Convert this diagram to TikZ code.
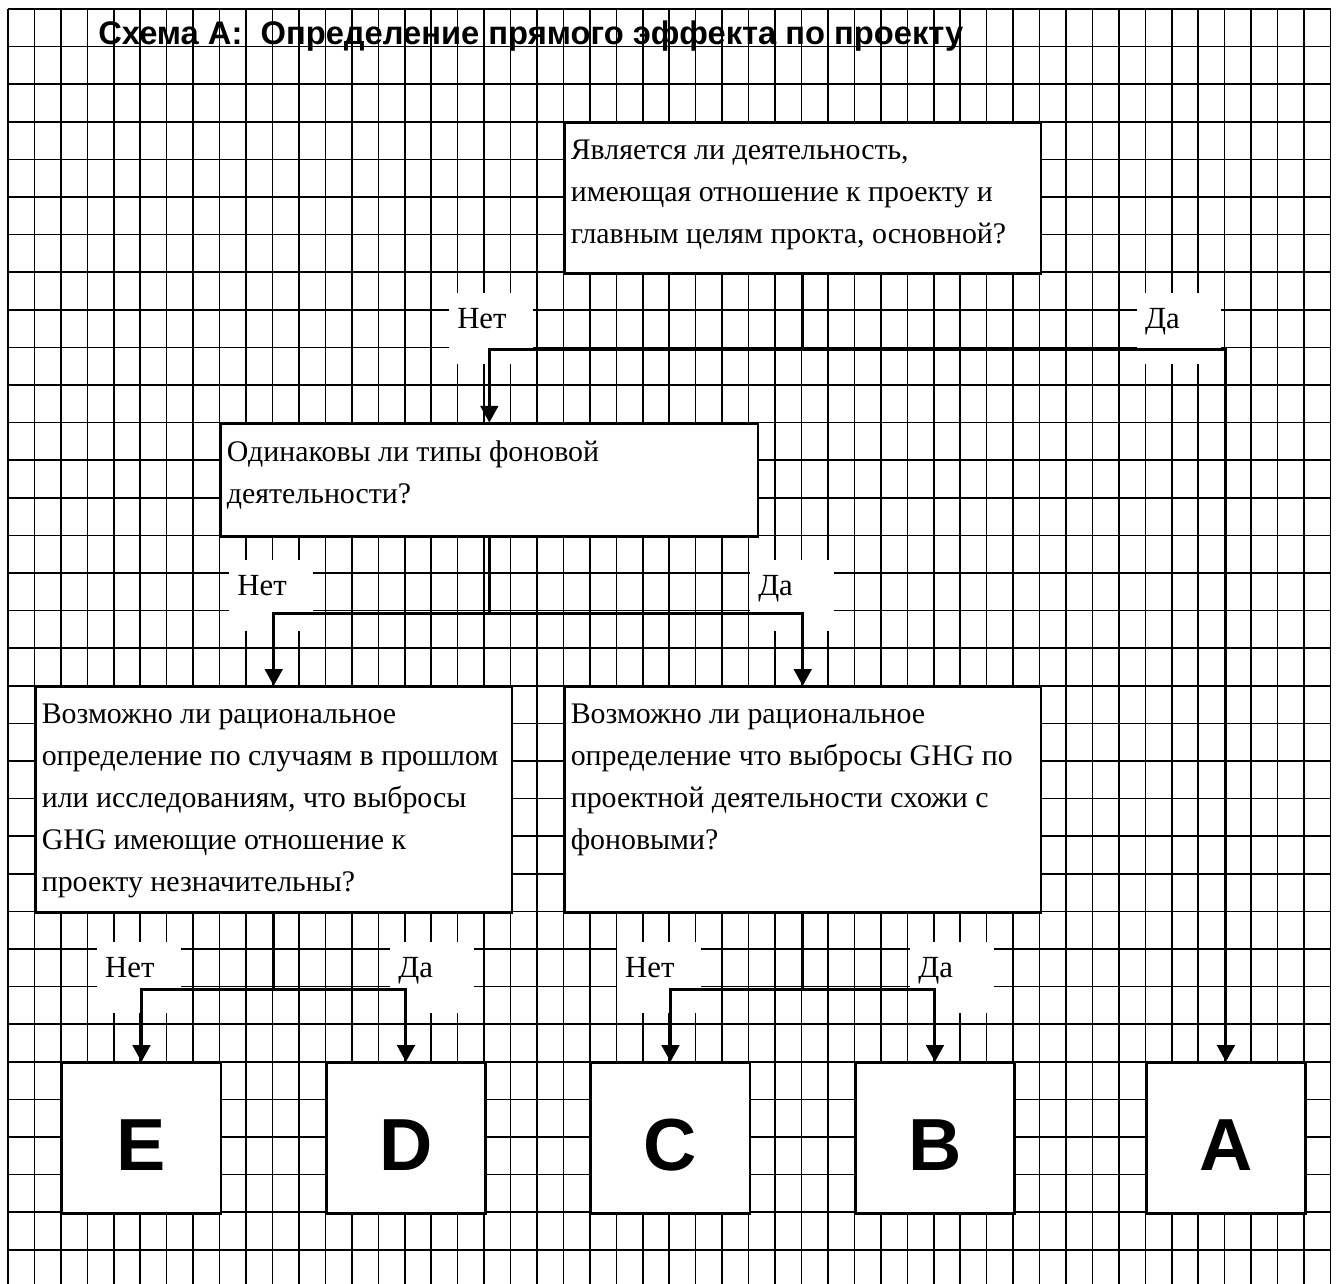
\documentclass[tikz,border=0pt]{standalone}
\usepackage{fontspec}
\setmainfont{Liberation Serif}
\setsansfont{Liberation Sans}
\usetikzlibrary{arrows.meta}

\begin{document}
\begin{tikzpicture}[
  x=0.529cm, y=-0.752cm,
  cell/.style={line width=0.9pt},
  qbox/.style={draw, line width=1.4pt, fill=white, inner sep=0pt, anchor=north west},
  qtext/.style={anchor=north west, align=left, inner sep=0pt,
    font=\fontsize{17}{23.8}\selectfont},
  res/.style={qbox, minimum width=3.174cm, minimum height=3.008cm,
    font=\sffamily\bfseries\fontsize{42}{42}\selectfont,
    text height=37pt, text depth=0pt},
  lbl/.style={fill=white, anchor=west, inner xsep=0.16cm, inner ysep=0pt,
    text width=1.36cm, minimum height=1.42cm, align=left,
    font=\fontsize{17.5}{17.5}\selectfont, text height=11pt, text depth=11pt},
  link/.style={line width=1.7pt},
  arr/.style={link, -{Triangle[length=9.5pt, width=10pt]}},
]
\useasboundingbox (-0.3025,-0.2394) rectangle (50.284,33.91);

% ── sheet grid ──────────────────────
\foreach \k in {0,...,50}
  \draw[cell] (\k,0) -- (\k,33.91);
\foreach \r in {0,...,33}
  \draw[cell] (0,\r) -- (50,\r);

% ── title ───────────────────────────
\node[anchor=base west, inner sep=0pt,
      font=\sffamily\bfseries\fontsize{18.6}{18.6}\selectfont]
  (title) at (3.40,0.957) {Схема А:~~Определение прямого эффекта по проекту};

% ── branch labels ───────────────────
\node[lbl] (noMain)  at (16.67,8.51)  {Нет};
\node[lbl] (yesMain) at (42.68,8.51)  {Да};
\node[lbl] (noType)  at (8.36,15.61)  {Нет};
\node[lbl] (yesType) at (28.05,15.61) {Да};
\node[lbl] (noPast)  at (3.36,25.77)  {Нет};
\node[lbl] (yesPast) at (14.44,25.77) {Да};
\node[lbl] (noSame)  at (23.02,25.77) {Нет};
\node[lbl] (yesSame) at (34.10,25.77) {Да};

% ── questions ───────────────────────
\node[qbox, minimum width=9.522cm, minimum height=3.008cm] (qmain) at (21,3) {};
\node[qtext] (tmain) at ([shift={(0.14cm,-0.36cm)}]qmain.north west)
  {Является ли деятельность,\\имеющая отношение к проекту и\\главным целям прокта, основной?};

\node[qbox, minimum width=10.74cm, minimum height=2.256cm] (qtype) at (8,11) {};
\node[qtext] (ttype) at ([shift={(0.14cm,-0.36cm)}]qtype.north west)
  {Одинаковы ли типы фоновой\\деятельности?};

\node[qbox, minimum width=9.522cm, minimum height=4.512cm] (qpast) at (1,18) {};
\node[qtext] (tpast) at ([shift={(0.14cm,-0.36cm)}]qpast.north west)
  {Возможно ли рациональное\\определение по случаям в прошлом\\или исследованиям, что выбросы\\GHG имеющие отношение к\\проекту незначительны?};

\node[qbox, minimum width=9.522cm, minimum height=4.512cm] (qsame) at (21,18) {};
\node[qtext] (tsame) at ([shift={(0.14cm,-0.36cm)}]qsame.north west)
  {Возможно ли рациональное\\определение что выбросы GHG по\\проектной деятельности схожи с\\фоновыми?};

% ── outcomes ────────────────────────
\node[res] (resE) at (2,28)  {E};
\node[res] (resD) at (12,28) {D};
\node[res] (resC) at (22,28) {C};
\node[res] (resB) at (32,28) {B};
\node[res] (resA) at (43,28) {A};

% ── connectors ──────────────────────
\draw[link] (qmain.south) -- ++(0,2) coordinate (j1);
\draw[arr] (j1) -| (qtype.north);
\draw[arr] (j1) -| (resA.north);

\draw[link] (qtype.south) -- ++(0,2) coordinate (j2);
\draw[arr] (j2) -| (qpast.north);
\draw[arr] (j2) -| (qsame.north);

\draw[link] (qpast.south) -- ++(0,2) coordinate (j3);
\draw[arr] (j3) -| (resE.north);
\draw[arr] (j3) -| (resD.north);

\draw[link] (qsame.south) -- ++(0,2) coordinate (j4);
\draw[arr] (j4) -| (resC.north);
\draw[arr] (j4) -| (resB.north);

\end{tikzpicture}
\end{document}
